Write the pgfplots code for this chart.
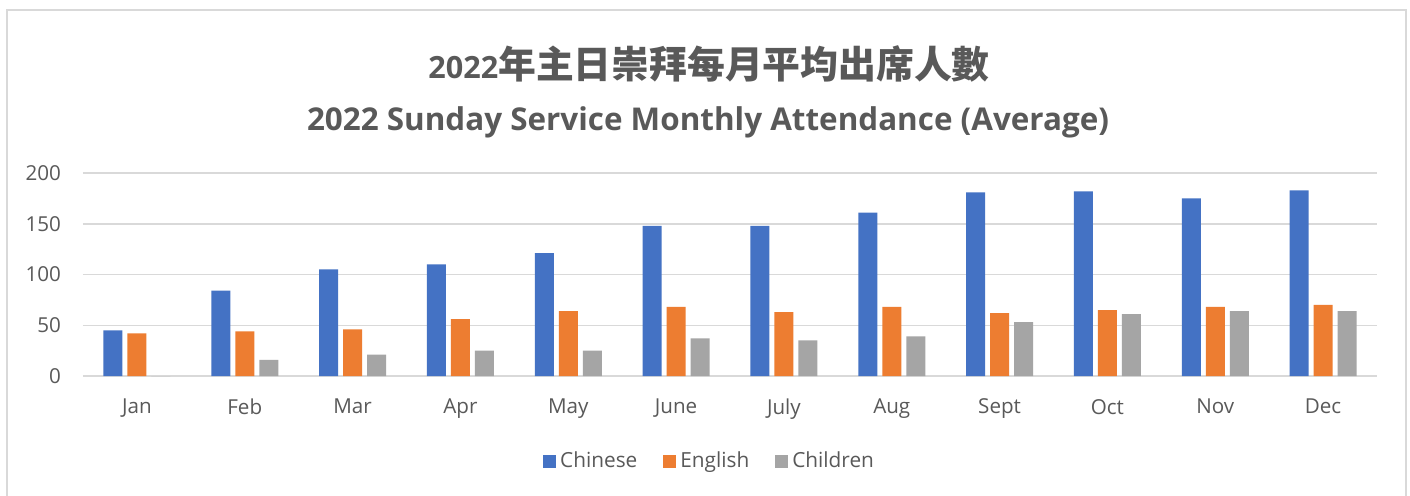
\documentclass[border=0pt]{standalone}
\usepackage{pgfplots}
\pgfplotsset{compat=1.18}
\usepackage{fontspec}
\setmainfont{Open Sans}
\newfontfamily\cjk{Noto Sans CJK TC}
\definecolor{cblue}{HTML}{4472C4}
\definecolor{corange}{HTML}{ED7D31}
\definecolor{cgray}{HTML}{A5A5A5}
\definecolor{txtc}{HTML}{595959}
\definecolor{gridc}{HTML}{D9D9D9}
\begin{document}
\begin{tikzpicture}
\useasboundingbox (0,0) rectangle (705pt,247.5pt);
\fill[white] (0,0) rectangle (705pt,247.5pt);
\draw[gridc, line width=0.75pt] (3.5pt,-2pt) -- (3.5pt,242.5pt) -- (703pt,242.5pt) -- (703pt,-2pt);
\node[anchor=base, text=txtc, inner sep=0pt] at (354.5pt,208.5pt) {\fontsize{15.3pt}{18pt}\selectfont\bfseries 2022{\cjk\fontsize{18.9pt}{21pt}\selectfont\bfseries 年主日崇拜每月平均出席人數}};
\node[anchor=base, text=txtc, inner sep=0pt] at (354pt,182.5pt) {\fontsize{15.7pt}{18pt}\selectfont\bfseries 2022 Sunday Service Monthly Attendance (Average)};
\begin{axis}[
  at={(41.5pt,59.5pt)}, anchor=south west,
  scale only axis, width=647pt, height=101.5pt,
  ybar=2.5pt, bar width=9.5pt,
  ymin=0, ymax=200, ytick={0,50,100,150,200},
  xmin=-0.5, xmax=11.5, xtick={0,1,2,3,4,5,6,7,8,9,10,11},
  xticklabels={Jan,Feb,Mar,Apr,May,June,July,Aug,Sept,Oct,Nov,Dec},
  axis line style={draw=none},
  tick style={draw=none}, major tick length=0pt,
  ymajorgrids, grid style={gridc, line width=0.75pt},
  /pgf/number format/assume math mode=true,
  ticklabel style={font=\fontsize{10.3pt}{12pt}\selectfont, text=txtc},
  yticklabel style={xshift=-7.5pt},
  xticklabel style={yshift=-8pt},
  legend style={draw=none, at={(0.485,-0.419)}, anchor=center, legend columns=-1,
    font=\fontsize{10.4pt}{12pt}\selectfont, text=txtc,
    /tikz/every even column/.append style={column sep=11pt}},
  legsq/.style={legend image code/.code={\fill[##1] (0pt,-3.25pt) rectangle (6.5pt,3.25pt);}},
]
\addplot[fill=cblue, draw=none, legsq] coordinates {(0,45) (1,84) (2,105) (3,110) (4,121) (5,148) (6,148) (7,161) (8,181) (9,182) (10,175) (11,183)};
\addplot[fill=corange, draw=none, legsq] coordinates {(0,42) (1,44) (2,46) (3,56) (4,64) (5,68) (6,63) (7,68) (8,62) (9,65) (10,68) (11,70)};
\addplot[fill=cgray, draw=none, legsq] coordinates {(0,0) (1,16) (2,21) (3,25) (4,25) (5,37) (6,35) (7,39) (8,53) (9,61) (10,64) (11,64)};
\legend{Chinese,English,Children}
\end{axis}
\end{tikzpicture}
\end{document}
